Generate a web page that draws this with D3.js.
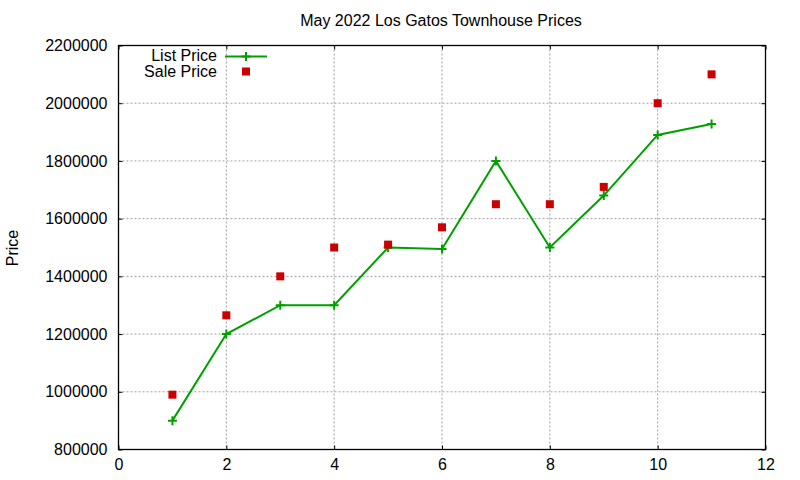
<!DOCTYPE html>
<html>
<head>
<meta charset="utf-8">
<script src="https://cdn.jsdelivr.net/npm/d3@7"></script>
<style>
  body { margin: 0; background: #fff; }
  text { font-family: "Liberation Sans", Arial, sans-serif; fill: #000; }
</style>
</head>
<body>
<div id="chart"></div>
<script>
// listing number, list price and sale price
var listings = [1, 2, 3, 4, 5, 6, 7, 8, 9, 10, 11];
var listPrice = [900000, 1200000, 1300000, 1300000, 1500000, 1495000, 1800000, 1500000, 1680000, 1890000, 1928000];
var salePrice = [990000, 1265000, 1400000, 1500000, 1510000, 1570000, 1650000, 1650000, 1710000, 2000000, 2100000];
var xTicks = [0, 2, 4, 6, 8, 10, 12];
var yTicks = [800000, 1000000, 1200000, 1400000, 1600000, 1800000, 2000000, 2200000];
var seriesNames = ['List Price', 'Sale Price'];

var chart_width = 800;
var chart_height = 480;
// plot box (window.top is reserved, so use own names)
var plotLeft = 118.5, plotRight = 765.5, plotTop = 45.5, plotBottom = 449.5;
var green = '#00a000', red = '#cc0000';

var svg = d3
  .select('#chart')
  .append('svg')
  .attr('width', chart_width)
  .attr('height', chart_height);

// scales
var x_scale = d3.scaleLinear().domain([0, 12]).range([plotLeft, plotRight]);
var y_scale = d3.scaleLinear().domain([800000, 2200000]).range([plotBottom, plotTop]);

// grid
svg.append('g')
  .selectAll('line')
  .data(xTicks.slice(1, -1))
  .enter()
  .append('line')
  .attr('x1', function(d) { return x_scale(d); })
  .attr('x2', function(d) { return x_scale(d); })
  .attr('y1', plotTop)
  .attr('y2', plotBottom)
  .attr('stroke', '#a0a0a0')
  .attr('stroke-dasharray', '2,2');
svg.append('g')
  .selectAll('line')
  .data(yTicks.slice(1, -1))
  .enter()
  .append('line')
  .attr('y1', function(d) { return y_scale(d); })
  .attr('y2', function(d) { return y_scale(d); })
  .attr('x1', plotLeft)
  .attr('x2', plotRight)
  .attr('stroke', '#a0a0a0')
  .attr('stroke-dasharray', '2,2');

// axes, ticks on all four sides pointing inwards
function styleAxis(g) {
  g.select('.domain').remove();
  g.selectAll('.tick line').attr('stroke', '#000');
  g.selectAll('.tick text').attr('font-size', 16).attr('font-family', '"Liberation Sans", Arial, sans-serif');
}
svg.append('g')
  .attr('transform', 'translate(0,' + plotBottom + ')')
  .call(d3.axisBottom(x_scale).tickValues(xTicks).tickSize(-4).tickPadding(9).tickFormat(d3.format('d')))
  .call(styleAxis);
svg.append('g')
  .attr('transform', 'translate(0,' + plotTop + ')')
  .call(d3.axisTop(x_scale).tickValues(xTicks).tickSize(-4).tickFormat(''))
  .call(styleAxis);
svg.append('g')
  .attr('transform', 'translate(' + plotLeft + ',0)')
  .call(d3.axisLeft(y_scale).tickValues(yTicks).tickSize(-4).tickPadding(11).tickFormat(d3.format('d')))
  .call(styleAxis);
svg.append('g')
  .attr('transform', 'translate(' + plotRight + ',0)')
  .call(d3.axisRight(y_scale).tickValues(yTicks).tickSize(-4).tickFormat(''))
  .call(styleAxis);

// frame
svg.append('rect')
  .attr('x', plotLeft)
  .attr('y', plotTop)
  .attr('width', plotRight - plotLeft)
  .attr('height', plotBottom - plotTop)
  .attr('fill', 'none')
  .attr('stroke', '#000')
  .attr('stroke-width', 1.3);

// list price line
var line = d3.line()
  .x(function(d, i) { return x_scale(listings[i]); })
  .y(function(d) { return y_scale(d); });
svg.append('path')
  .datum(listPrice)
  .attr('d', line)
  .attr('fill', 'none')
  .attr('stroke', green)
  .attr('stroke-width', 2);

function plus(g, cx, cy) {
  g.append('path')
    .attr('d', 'M' + (cx - 4.5) + ',' + cy + 'H' + (cx + 4.5) + 'M' + cx + ',' + (cy - 4.5) + 'V' + (cy + 4.5))
    .attr('stroke', green)
    .attr('stroke-width', 2)
    .attr('fill', 'none');
}
var pts = svg.append('g');
listPrice.forEach(function(d, i) {
  plus(pts, x_scale(listings[i]), y_scale(d));
});

// sale price squares
svg.append('g')
  .selectAll('rect')
  .data(salePrice)
  .enter()
  .append('rect')
  .attr('x', function(d, i) { return x_scale(listings[i]) - 4; })
  .attr('y', function(d) { return y_scale(d) - 4; })
  .attr('width', 8)
  .attr('height', 8)
  .attr('fill', red);

// legend
svg.append('text').attr('x', 217).attr('y', 61).attr('text-anchor', 'end').attr('font-size', 16).text(seriesNames[0]);
svg.append('text').attr('x', 217).attr('y', 77).attr('text-anchor', 'end').attr('font-size', 16).text(seriesNames[1]);
svg.append('line').attr('x1', 225).attr('x2', 267).attr('y1', 56.5).attr('y2', 56.5).attr('stroke', green).attr('stroke-width', 2);
plus(svg, 246, 56.5);
svg.append('rect').attr('x', 242).attr('y', 67.5).attr('width', 8).attr('height', 8).attr('fill', red);

// title and axis label
svg.append('text')
  .attr('x', 441)
  .attr('y', 26)
  .attr('text-anchor', 'middle')
  .attr('font-size', 16)
  .text('May 2022 Los Gatos Townhouse Prices');
svg.append('text')
  .attr('transform', 'translate(18,248) rotate(-90)')
  .attr('text-anchor', 'middle')
  .attr('font-size', 16)
  .text('Price');
</script>
</body>
</html>
